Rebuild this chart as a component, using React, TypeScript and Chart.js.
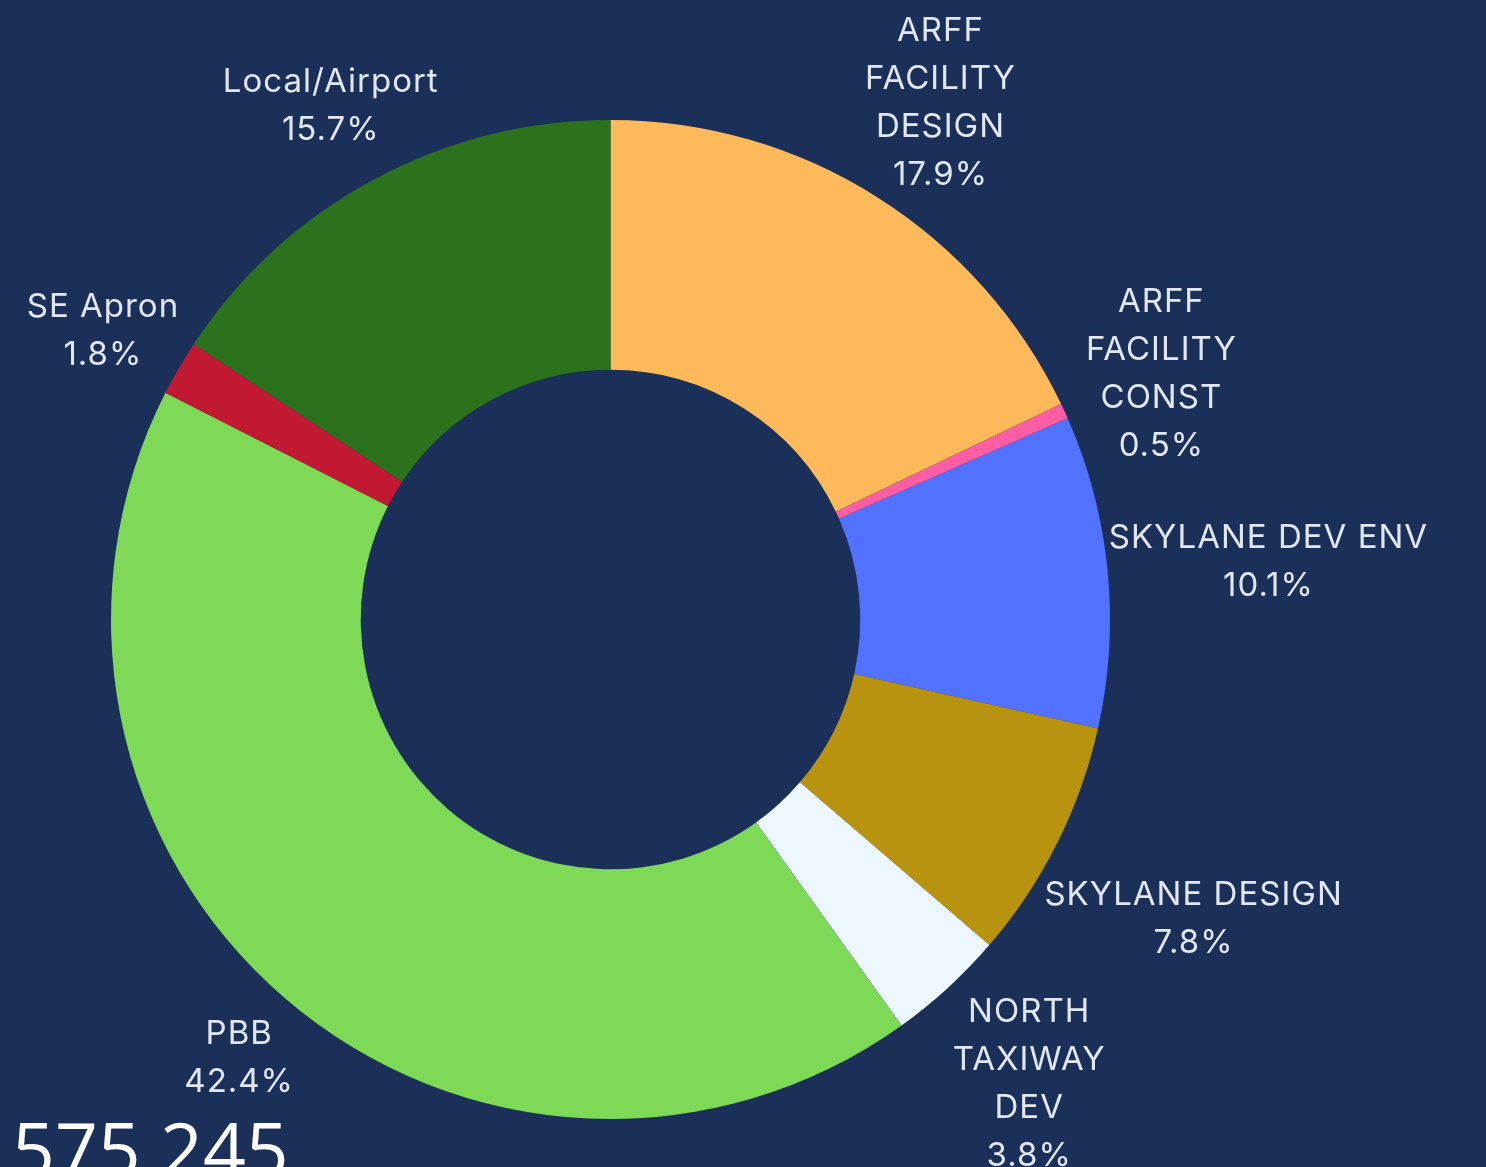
import React, { useEffect, useRef } from "react";
import { Chart, registerables } from "chart.js";

Chart.register(...registerables);

const categories = [
  "ARFF FACILITY DESIGN",
  "ARFF FACILITY CONST",
  "SKYLANE DEV ENV",
  "SKYLANE DESIGN",
  "NORTH TAXIWAY DEV",
  "PBB",
  "SE Apron",
  "Local/Airport",
];
const labelLines = [
  ["ARFF", "FACILITY", "DESIGN"],
  ["ARFF", "FACILITY", "CONST"],
  ["SKYLANE DEV ENV"],
  ["SKYLANE DESIGN"],
  ["NORTH", "TAXIWAY", "DEV"],
  ["PBB"],
  ["SE Apron"],
  ["Local/Airport"],
];
const shares = [17.9, 0.5, 10.1, 7.8, 3.8, 42.4, 1.8, 15.7];
const colors = [
  "#FEBA5A",
  "#FF5EA5",
  "#5271FF",
  "#B8930F",
  "#ECF7FF",
  "#7ED957",
  "#C01931",
  "#2C711C",
];
const totalLabel = "575,245";

const BG = "#1B3058";
const LABEL_FONT = '33px Inter, "DejaVu Sans", sans-serif';
const LINE_H = 48;
const OFFSET = -2;
const TEXT_DY = 7;

const outsideLabels = {
  id: "outsideLabels",
  afterDatasetsDraw(chart: any) {
    const ctx = chart.ctx;
    const meta = chart.getDatasetMeta(0);
    const data = chart.data.datasets[0].data as number[];
    const total = data.reduce((a, b) => a + b, 0);
    ctx.save();
    ctx.font = LABEL_FONT;
    try {
      (ctx as any).letterSpacing = "1px";
    } catch (e) {}
    ctx.fillStyle = "#E2E7EF";
    ctx.textAlign = "center";
    ctx.textBaseline = "middle";
    meta.data.forEach((arc: any, i: number) => {
      const p = arc.getProps(["x", "y", "startAngle", "endAngle", "outerRadius"], true);
      const mid = (p.startAngle + p.endAngle) / 2;
      const vx = Math.cos(mid);
      const vy = Math.sin(mid);
      const lines = [...labelLines[i], ((data[i] / total) * 100).toFixed(1) + "%"];
      let w = 0;
      lines.forEach((l) => (w = Math.max(w, ctx.measureText(l).width)));
      const h = lines.length * LINE_H;
      // push the label block out along the slice's mid-angle ray until it clears the ring
      const d = Math.abs(vx) * (w / 2) + Math.abs(vy) * (h / 2) + OFFSET;
      const r = p.outerRadius + d;
      const cx = p.x + vx * r;
      const cy = p.y + vy * r + TEXT_DY;
      const top = cy - h / 2;
      lines.forEach((l, k) => {
        ctx.fillText(l, cx, top + LINE_H / 2 + k * LINE_H);
      });
    });
    ctx.restore();
  },
};

export default function App() {
  const ref = useRef<HTMLCanvasElement>(null);
  useEffect(() => {
    const chart = new Chart(ref.current!, {
      type: "doughnut",
      data: {
        labels: categories,
        datasets: [
          {
            data: shares,
            backgroundColor: colors,
            borderWidth: 0,
            hoverOffset: 0,
          },
        ],
      },
      options: {
        responsive: false,
        animation: false,
        cutout: "50%",
        layout: { padding: { left: 111, right: 376, top: 120, bottom: 48 } },
        plugins: {
          legend: { display: false },
          tooltip: { enabled: false },
        },
      },
      plugins: [outsideLabels],
    });
    return () => chart.destroy();
  }, []);
  return (
    <div
      style={{
        position: "fixed",
        left: 0,
        top: 0,
        width: 1486,
        height: 1167,
        background: BG,
        overflow: "hidden",
      }}
    >
      <canvas ref={ref} width={1486} height={1167} style={{ position: "absolute", left: 0, top: 0 }} />
      <div
        style={{
          position: "absolute",
          left: 12,
          top: 1111,
          fontFamily: '"Open Sans", sans-serif',
          fontSize: 75,
          lineHeight: "75px",
          color: "#FFFFFF",
          whiteSpace: "nowrap",
        }}
      >
        {totalLabel}
      </div>
    </div>
  );
}
